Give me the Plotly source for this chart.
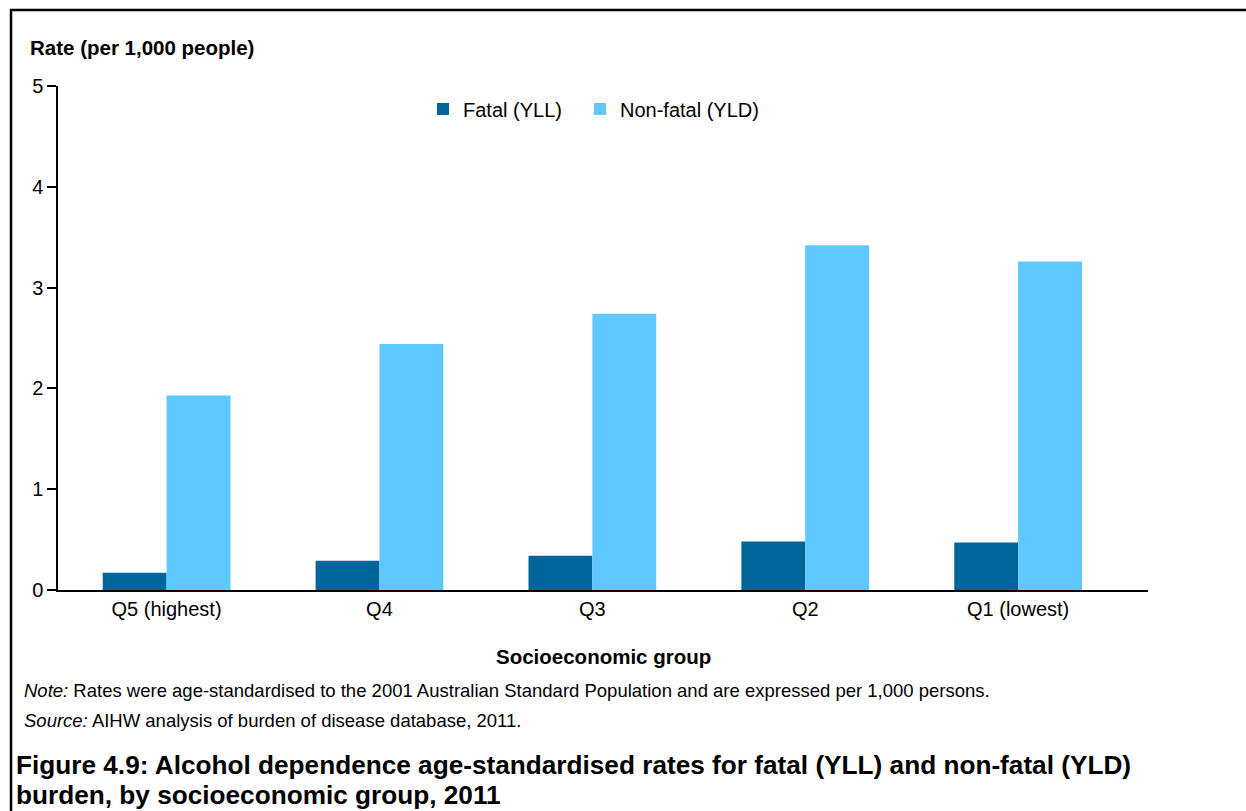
import plotly.graph_objects as go

categories = ["Q5 (highest)", "Q4", "Q3", "Q2", "Q1 (lowest)"]
fatal_yll = [0.17, 0.29, 0.34, 0.48, 0.47]
nonfatal_yld = [1.93, 2.44, 2.74, 3.42, 3.26]
series_names = ["Fatal (YLL)", "Non-fatal (YLD)"]
y_ticks = [0, 1, 2, 3, 4, 5]

W, H = 1246, 811
L, R, T, B = 58, 98, 86, 221
PW, PH = W - L - R, H - T - B
FONT = "Liberation Sans, Arial, sans-serif"


def px(x):
    return (x - L) / PW


def py(y):
    return (H - B - y) / PH


fig = go.Figure()
fig.add_trace(go.Bar(x=categories, y=fatal_yll, name=series_names[0], legend="legend",
                     marker=dict(color="#006699", line=dict(width=0))))
fig.add_trace(go.Bar(x=categories, y=nonfatal_yld, name=series_names[1], legend="legend2",
                     marker=dict(color="#5FC9FF", line=dict(width=0))))

leg_common = dict(orientation="h", y=py(109), xanchor="left", yanchor="middle",
                  font=dict(size=20), bgcolor="rgba(0,0,0,0)", itemwidth=30)

fig.update_layout(
    width=W, height=H,
    margin=dict(l=L, r=R, t=T, b=B, pad=0),
    paper_bgcolor="white", plot_bgcolor="white",
    font=dict(family=FONT, size=19, color="black"),
    barmode="group", bargap=0.4, bargroupgap=0,
    showlegend=True,
    legend=dict(x=px(423), **leg_common),
    legend2=dict(x=px(580), **leg_common),
    xaxis=dict(type="category", range=[-0.51, 4.61], showgrid=False, zeroline=False,
               showline=True, linecolor="black", linewidth=2, ticks="",
               tickfont=dict(size=20), fixedrange=True),
    yaxis=dict(range=[0, 5], tickvals=y_ticks, showgrid=False, zeroline=False,
               showline=True, linecolor="black", linewidth=1.5, ticks="outside",
               ticklen=9, tickwidth=1.5, tickcolor="black",
               tickfont=dict(size=20), fixedrange=True),
)

ann = [
    dict(text="<b>Rate (per 1,000 people)</b>", x=px(28), y=py(47), size=20.5),
    dict(text="<b>Socioeconomic group</b>", x=px(603), y=py(656), size=20.5, xanchor="center"),
    dict(text="<i>Note:</i> Rates were age-standardised to the 2001 Australian Standard Population and are expressed per 1,000 persons.",
         x=px(22), y=py(690), size=18.5),
    dict(text="<i>Source:</i> AIHW analysis of burden of disease database, 2011.",
         x=px(22), y=py(720), size=18.5),
    dict(text="<b>Figure 4.9: Alcohol dependence age-standardised rates for fatal (YLL) and non-fatal (YLD)</b>",
         x=px(14), y=py(765), size=26.2),
    dict(text="<b>burden, by socioeconomic group, 2011</b>",
         x=px(14), y=py(795), size=26.2),
]
for a in ann:
    fig.add_annotation(text=a["text"], x=a["x"], y=a["y"], xref="paper", yref="paper",
                       xanchor=a.get("xanchor", "left"), yanchor="middle", showarrow=False,
                       font=dict(family=FONT, size=a["size"], color="black"))

# outer frame: top and left edges (right/bottom edges lie outside the page)
fig.add_shape(type="line", xref="paper", yref="paper",
              x0=px(10), y0=py(10), x1=px(W + 50), y1=py(10),
              line=dict(color="black", width=2.5))
fig.add_shape(type="line", xref="paper", yref="paper",
              x0=px(11), y0=py(9), x1=px(11), y1=py(H + 50),
              line=dict(color="black", width=2.5))

fig.write_html("out.html", config={"displayModeBar": False},
               post_script="document.body.style.margin='0';document.body.style.overflow='hidden';")
